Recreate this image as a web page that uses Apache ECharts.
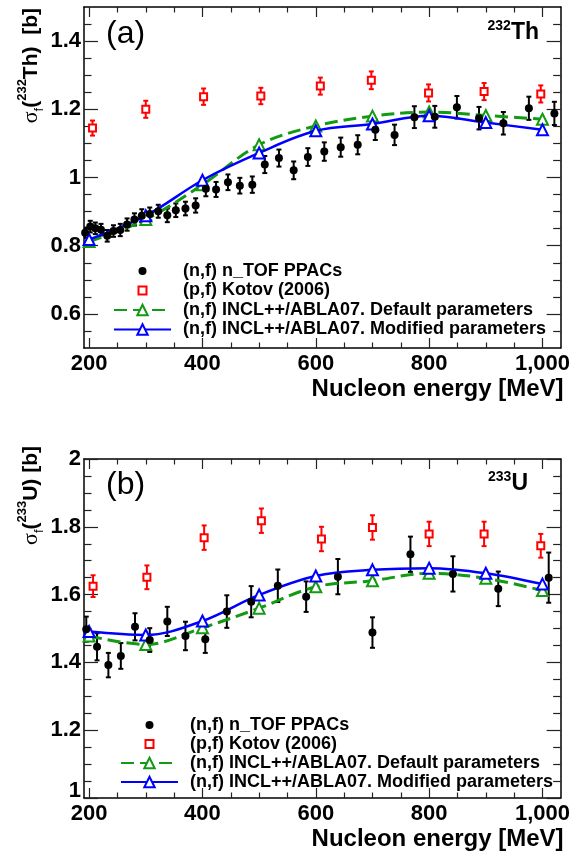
<!DOCTYPE html>
<html><head><meta charset="utf-8">
<script src="https://cdn.jsdelivr.net/npm/echarts@6/dist/echarts.min.js"></script>
<style>html,body{margin:0;padding:0;background:#fff}#c{width:573px;height:853px}</style>
</head><body><div id="c"></div>
<script>
// ---------- DATA ----------
const modelE = [200, 300, 400, 500, 600, 700, 800, 900, 1000];

// Panel (a): 232Th
const thE   = [193, 202, 211, 221, 232, 243, 255, 267, 280, 293, 307, 322, 338, 353, 370, 388, 406, 424, 445, 466, 488, 510, 535, 561, 586, 615, 644, 674, 705, 739, 774, 810, 849, 888, 931, 976, 1021];
const thV   = [0.838, 0.856, 0.851, 0.847, 0.829, 0.843, 0.846, 0.862, 0.877, 0.888, 0.893, 0.901, 0.889, 0.904, 0.909, 0.918, 0.967, 0.965, 0.986, 0.976, 0.979, 1.038, 1.057, 1.021, 1.060, 1.076, 1.089, 1.096, 1.140, 1.125, 1.177, 1.178, 1.206, 1.174, 1.159, 1.203, 1.188];
const thErr = [0.015, 0.017, 0.017, 0.017, 0.017, 0.017, 0.018, 0.018, 0.018, 0.019, 0.019, 0.019, 0.020, 0.020, 0.020, 0.021, 0.022, 0.022, 0.023, 0.023, 0.024, 0.025, 0.025, 0.026, 0.026, 0.027, 0.028, 0.028, 0.030, 0.030, 0.032, 0.032, 0.033, 0.033, 0.033, 0.034, 0.034];
const kotovE_a   = [206, 300, 402, 503, 608, 698, 799, 897, 997];
const kotovV_a   = [1.145, 1.200, 1.237, 1.239, 1.268, 1.285, 1.248, 1.252, 1.245];
const kotovErr_a = [0.022, 0.025, 0.024, 0.024, 0.025, 0.026, 0.025, 0.025, 0.025];
const thDefault  = [0.812, 0.877, 0.979, 1.096, 1.151, 1.180, 1.192, 1.182, 1.171];
const thModified = [0.818, 0.888, 0.992, 1.072, 1.137, 1.157, 1.181, 1.161, 1.140];

// Panel (b): 233U
const uE   = [195, 214, 234, 256, 281, 307, 338, 370, 405, 443, 486, 533, 583, 639, 700, 767, 842, 922, 1011];
const uV   = [1.498, 1.446, 1.392, 1.419, 1.505, 1.466, 1.521, 1.478, 1.468, 1.550, 1.579, 1.626, 1.594, 1.653, 1.488, 1.719, 1.661, 1.617, 1.650];
const uErr = [0.037, 0.040, 0.036, 0.038, 0.040, 0.035, 0.043, 0.042, 0.040, 0.048, 0.046, 0.048, 0.045, 0.052, 0.045, 0.052, 0.052, 0.051, 0.074];
const kotovE_b   = [207, 302, 403, 504, 610, 700, 800, 897, 997];
const kotovV_b   = [1.625, 1.651, 1.768, 1.818, 1.764, 1.798, 1.779, 1.779, 1.744];
const kotovErr_b = [0.032, 0.035, 0.036, 0.036, 0.036, 0.036, 0.036, 0.036, 0.035];
const uDefault  = [1.478, 1.453, 1.502, 1.560, 1.623, 1.641, 1.663, 1.648, 1.612];
const uModified = [1.491, 1.481, 1.522, 1.599, 1.655, 1.673, 1.678, 1.663, 1.631];

// Axis ticks
const xMajor = [200, 400, 600, 800, 1000];
const xMinor = [250, 300, 350, 450, 500, 550, 650, 700, 750, 850, 900, 950];
const yMajorA = [0.6, 0.8, 1.0, 1.2, 1.4];
const yMinorA = [0.55, 0.65, 0.7, 0.75, 0.85, 0.9, 0.95, 1.05, 1.1, 1.15, 1.25, 1.3, 1.35, 1.45];
const yMajorB = [1.0, 1.2, 1.4, 1.6, 1.8, 2.0];
const yMinorB = [1.05, 1.1, 1.15, 1.25, 1.3, 1.35, 1.45, 1.5, 1.55, 1.65, 1.7, 1.75, 1.85, 1.9, 1.95];

const names = ['(n,f) n_TOF PPACs', '(p,f) Kotov (2006)', '(n,f) INCL++/ABLA07. Default parameters', '(n,f) INCL++/ABLA07. Modified parameters'];

// ---------- STYLE ----------
const FONT = 'Liberation Sans, Arial, Helvetica, sans-serif';
const GREEN = '#129a12', BLUE = '#0000ff', RED = '#ff0000';
const XMIN = 191, XMAX = 1032;

const zip3 = (a, b, c) => a.map((v, i) => [v, b[i], c[i]]);
const zip2 = (a, b) => a.map((v, i) => [v, b[i]]);

function xAxes(grid, withName) {
  const base = { type: 'value', gridIndex: grid, min: XMIN, max: XMAX, splitLine: { show: false }, axisPointer: { show: false } };
  return [
    Object.assign({}, base, {
      position: 'bottom',
      axisLine: { show: true, onZero: false, lineStyle: { color: '#000', width: 1.5 } },
      axisTick: { show: true, inside: true, length: 10, customValues: xMajor, lineStyle: { color: '#222', width: 1.2 } },
      axisLabel: { show: true, customValues: xMajor, margin: 5, color: '#000', fontSize: 22, fontWeight: 'bold', fontFamily: FONT },
      name: withName, nameLocation: 'end', nameGap: 3,
      nameTextStyle: { color: '#000', fontSize: 24, fontWeight: 'bold', fontFamily: FONT, align: 'right', verticalAlign: 'top', padding: [29, 0, 0, 0] }
    }),
    Object.assign({}, base, {
      position: 'bottom',
      axisLine: { show: false, onZero: false },
      axisTick: { show: true, inside: true, length: 5.5, customValues: xMinor, lineStyle: { color: '#222', width: 1.2 } },
      axisLabel: { show: false }
    }),
    Object.assign({}, base, {
      position: 'top',
      axisLine: { show: true, onZero: false, lineStyle: { color: '#000', width: 1.5 } },
      axisTick: { show: true, inside: true, length: 10, customValues: xMajor, lineStyle: { color: '#222', width: 1.2 } },
      axisLabel: { show: false }
    }),
    Object.assign({}, base, {
      position: 'top',
      axisLine: { show: false, onZero: false },
      axisTick: { show: true, inside: true, length: 5.5, customValues: xMinor, lineStyle: { color: '#222', width: 1.2 } },
      axisLabel: { show: false }
    })
  ];
}

function yAxes(grid, min, max, major, minor, lowShift) {
  const base = { type: 'value', gridIndex: grid, min: min, max: max, splitLine: { show: false }, axisPointer: { show: false } };
  return [
    Object.assign({}, base, {
      position: 'left',
      axisLine: { show: true, onZero: false, lineStyle: { color: '#000', width: 1.5 } },
      axisTick: { show: true, inside: true, length: 14, customValues: major, lineStyle: { color: '#222', width: 1.2 } },
      axisLabel: {
        show: true, customValues: major, margin: 3, color: '#000', fontSize: 22, fontWeight: 'bold', fontFamily: FONT,
        formatter: v => { const s = String(+(+v).toFixed(1)); return (lowShift && Math.abs(v - min) < 1e-6) ? '{lo|' + s + '}' : s; },
        rich: { lo: { fontSize: 22, fontWeight: 'bold', fontFamily: FONT, color: '#000', padding: [0, 0, 14, 0] } }
      }
    }),
    Object.assign({}, base, {
      position: 'left',
      axisLine: { show: false, onZero: false },
      axisTick: { show: true, inside: true, length: 7.5, customValues: minor, lineStyle: { color: '#222', width: 1.2 } },
      axisLabel: { show: false }
    }),
    Object.assign({}, base, {
      position: 'right',
      axisLine: { show: true, onZero: false, lineStyle: { color: '#000', width: 1.5 } },
      axisTick: { show: true, inside: true, length: 14, customValues: major, lineStyle: { color: '#222', width: 1.2 } },
      axisLabel: { show: false }
    }),
    Object.assign({}, base, {
      position: 'right',
      axisLine: { show: false, onZero: false },
      axisTick: { show: true, inside: true, length: 7.5, customValues: minor, lineStyle: { color: '#222', width: 1.2 } },
      axisLabel: { show: false }
    })
  ];
}

function errorBars(xi, yi, data, color) {
  return {
    type: 'custom', xAxisIndex: xi, yAxisIndex: yi, data: data, z: 3, clip: true, silent: true,
    encode: { x: 0, y: 1 },
    renderItem: function (params, api) {
      const x = api.value(0), y = api.value(1), e = api.value(2);
      const lo = api.coord([x, y - e]), hi = api.coord([x, y + e]);
      const w = 2.5;
      const st = { stroke: color, lineWidth: 2 };
      return { type: 'group', children: [
        { type: 'line', shape: { x1: lo[0], y1: lo[1], x2: hi[0], y2: hi[1] }, style: st },
        { type: 'line', shape: { x1: lo[0] - w, y1: lo[1], x2: lo[0] + w, y2: lo[1] }, style: st },
        { type: 'line', shape: { x1: hi[0] - w, y1: hi[1], x2: hi[0] + w, y2: hi[1] }, style: st }
      ] };
    }
  };
}

function panelSeries(xi, yi, ntE, ntV, ntErr, kE, kV, kErr, def, mod) {
  return [
    errorBars(xi, yi, zip3(ntE, ntV, ntErr), '#000'),
    errorBars(xi, yi, zip3(kE, kV, kErr), RED),
    {
      name: names[2], type: 'line', xAxisIndex: xi, yAxisIndex: yi, data: zip2(modelE, def), z: 4,
      smooth: 0.35, symbol: 'emptyTriangle', symbolSize: 11, showSymbol: true,
      lineStyle: { color: GREEN, width: 3, type: [13, 6] },
      itemStyle: { color: GREEN, borderColor: GREEN, borderWidth: 1.3 }
    },
    {
      name: names[3], type: 'line', xAxisIndex: xi, yAxisIndex: yi, data: zip2(modelE, mod), z: 5,
      smooth: 0.35, symbol: 'emptyTriangle', symbolSize: 11, showSymbol: true,
      lineStyle: { color: BLUE, width: 2.5 },
      itemStyle: { color: BLUE, borderColor: BLUE, borderWidth: 1.3 }
    },
    {
      name: names[0], type: 'scatter', xAxisIndex: xi, yAxisIndex: yi, data: zip2(ntE, ntV), z: 6,
      symbol: 'circle', symbolSize: 8, itemStyle: { color: '#000', opacity: 1 }
    },
    {
      name: names[1], type: 'scatter', xAxisIndex: xi, yAxisIndex: yi, data: zip2(kE, kV), z: 6,
      symbol: 'emptyRect', symbolSize: 7, itemStyle: { color: RED, borderColor: RED, borderWidth: 1.3, opacity: 1 }
    }
  ];
}

// lineLeft: left of the 57px line icon; markers are centred on it
function legendPair(lineLeft, textLeft, top1, top2, gap) {
  const mk = (pad) => ({ color: '#000', fontSize: 18, fontWeight: 'bold', fontFamily: FONT, lineHeight: 18, padding: [0, 0, 0, pad] });
  const symLeft = lineLeft + 28.5 - 4;
  return [
    { orient: 'vertical', left: symLeft, top: top1, itemWidth: 8, itemHeight: 8, itemGap: gap, data: [names[0], names[1]], textStyle: mk(textLeft - (symLeft + 8 + 5)), selectedMode: false, padding: 0 },
    { orient: 'vertical', left: lineLeft, top: top2, itemWidth: 57, itemHeight: 13, itemGap: gap, data: [names[2], names[3]], textStyle: mk(textLeft - (lineLeft + 57 + 5)), selectedMode: false, padding: 0 }
  ];
}

const supStyle = { fontSize: 14, fontWeight: 'bold', fontFamily: FONT, fill: '#000', verticalAlign: 'top', lineHeight: 28 };
const bigStyle = { fontSize: 23, fontWeight: 'bold', fontFamily: FONT, fill: '#000', lineHeight: 28 };

function yTitle(x, y, iso, el) {
  return {
    type: 'text', x: x, y: y, rotation: Math.PI / 2,
    style: {
      text: '{s|σ}{sub|f}{b|(}{sup|' + iso + '}{b|' + el + ')' + (el === 'Th' ? '  ' : ' ') + '[b]}',
      align: 'right', verticalAlign: 'middle',
      rich: {
        s: { fontSize: 22, fontFamily: 'Liberation Serif, DejaVu Serif, serif', fill: '#000', lineHeight: 30 },
        sub: { fontSize: 13, fontFamily: FONT, fill: '#000', verticalAlign: 'bottom', lineHeight: 30 },
        sup: { fontSize: 13, fontWeight: 'bold', fontFamily: FONT, fill: '#000', verticalAlign: 'top', lineHeight: 30 },
        b: { fontSize: 21, fontWeight: 'bold', fontFamily: FONT, fill: '#000', lineHeight: 30 }
      }
    }
  };
}

const option = {
  animation: false,
  backgroundColor: '#fff',
  grid: [
    { left: 84, top: 7, width: 480, height: 341, containLabel: false },
    { left: 84, top: 459, width: 480, height: 339, containLabel: false }
  ],
  xAxis: [].concat(xAxes(0, 'Nucleon energy [MeV]'), xAxes(1, 'Nucleon energy [MeV]')),
  yAxis: [].concat(yAxes(0, 0.5, 1.5, yMajorA, yMinorA, false), yAxes(1, 1.0, 2.0, yMajorB, yMinorB, true)),
  legend: [].concat(legendPair(113, 182, 262, 301, 1.5), legendPair(120, 189, 716, 754, 1)),
  series: [].concat(
    panelSeries(0, 0, thE, thV, thErr, kotovE_a, kotovV_a, kotovErr_a, thDefault, thModified),
    panelSeries(4, 4, uE, uV, uErr, kotovE_b, kotovV_b, kotovErr_b, uDefault, uModified)
  ),
  graphic: [
    { type: 'text', x: 106, y: 34, style: { text: '(a)', fontSize: 32, fontFamily: FONT, fill: '#000', align: 'left', verticalAlign: 'middle' } },
    { type: 'text', x: 106, y: 485, style: { text: '(b)', fontSize: 32, fontFamily: FONT, fill: '#000', align: 'left', verticalAlign: 'middle' } },
    { type: 'text', x: 539, y: 33, style: { text: '{sup|232}{big|Th}', align: 'right', verticalAlign: 'middle', rich: { sup: supStyle, big: bigStyle } } },
    { type: 'text', x: 528, y: 484, style: { text: '{sup|233}{big|U}', align: 'right', verticalAlign: 'middle', rich: { sup: supStyle, big: bigStyle } } },
    yTitle(31, 8, '232', 'Th'),
    yTitle(31, 446, '233', 'U')
  ]
};

const chart = echarts.init(document.getElementById('c'), null, { renderer: 'canvas' });
chart.setOption(option);
</script>
</body></html>
